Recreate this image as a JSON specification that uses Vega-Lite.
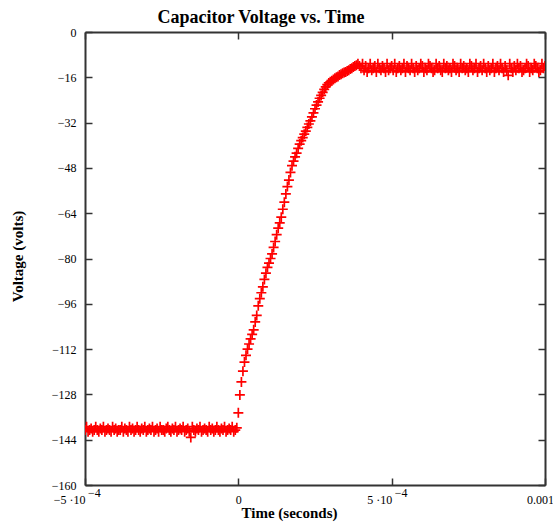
{
"$schema": "https://vega.github.io/schema/vega-lite/v6.json",
"width": 460, "height": 453,
"autosize": "none",
"padding": {"left": 85, "top": 32, "right": 8, "bottom": 38},
"background": "white",
"title": {"text": "Capacitor Voltage vs. Time", "font": "Liberation Serif", "fontSize": 18, "fontWeight": "bold", "color": "black", "anchor": "middle", "dx": -54, "offset": -1},
"config": {"view": {"stroke": null},
  "axis": {"grid": false, "domainColor": "#333333", "domainWidth": 2, "tickColor": "#333333", "tickWidth": 1.5, "tickSize": -7,
    "labelFont": "Liberation Serif", "labelFontSize": 12, "labelColor": "black",
    "titleFont": "Liberation Serif", "titleFontSize": 15, "titleFontWeight": "bold", "titleColor": "black"}},
"datasets": {
"exps": [{"t": -0.0005, "e": "−4"}, {"t": 0.0005, "e": "−4"}],
"scope": [
{"t":-5e-4,"v":-140.6},{"t":-4.95e-4,"v":-139.4},{"t":-4.9e-4,"v":-141.2},{"t":-4.85e-4,"v":-140.6},{"t":-4.8e-4,"v":-140.0},
{"t":-4.75e-4,"v":-141.2},{"t":-4.7e-4,"v":-140.6},{"t":-4.65e-4,"v":-139.4},{"t":-4.6e-4,"v":-140.6},{"t":-4.55e-4,"v":-141.2},
{"t":-4.5e-4,"v":-140.0},{"t":-4.45e-4,"v":-140.6},{"t":-4.4e-4,"v":-139.4},{"t":-4.35e-4,"v":-141.2},{"t":-4.3e-4,"v":-140.6},
{"t":-4.25e-4,"v":-140.0},{"t":-4.2e-4,"v":-140.6},{"t":-4.15e-4,"v":-141.2},{"t":-4.1e-4,"v":-139.4},{"t":-4.05e-4,"v":-140.6},
{"t":-4e-4,"v":-140.0},{"t":-3.95e-4,"v":-141.2},{"t":-3.9e-4,"v":-140.6},{"t":-3.85e-4,"v":-140.6},{"t":-3.8e-4,"v":-139.4},
{"t":-3.75e-4,"v":-141.2},{"t":-3.7e-4,"v":-140.0},{"t":-3.65e-4,"v":-140.6},{"t":-3.6e-4,"v":-141.2},{"t":-3.55e-4,"v":-139.4},
{"t":-3.5e-4,"v":-140.6},{"t":-3.45e-4,"v":-140.0},{"t":-3.4e-4,"v":-141.2},{"t":-3.35e-4,"v":-140.6},{"t":-3.3e-4,"v":-139.4},
{"t":-3.25e-4,"v":-140.6},{"t":-3.2e-4,"v":-141.2},{"t":-3.15e-4,"v":-140.0},{"t":-3.1e-4,"v":-140.6},{"t":-3.05e-4,"v":-139.4},
{"t":-3e-4,"v":-141.2},{"t":-2.95e-4,"v":-140.6},{"t":-2.9e-4,"v":-140.0},{"t":-2.85e-4,"v":-140.6},{"t":-2.8e-4,"v":-139.4},
{"t":-2.75e-4,"v":-141.2},{"t":-2.7e-4,"v":-140.6},{"t":-2.65e-4,"v":-140.0},{"t":-2.6e-4,"v":-141.2},{"t":-2.55e-4,"v":-139.4},
{"t":-2.5e-4,"v":-140.6},{"t":-2.45e-4,"v":-140.6},{"t":-2.4e-4,"v":-141.2},{"t":-2.35e-4,"v":-140.0},{"t":-2.3e-4,"v":-139.4},
{"t":-2.25e-4,"v":-140.6},{"t":-2.2e-4,"v":-141.2},{"t":-2.15e-4,"v":-140.0},{"t":-2.1e-4,"v":-140.6},{"t":-2.05e-4,"v":-139.4},
{"t":-2e-4,"v":-141.2},{"t":-1.95e-4,"v":-140.6},{"t":-1.9e-4,"v":-140.0},{"t":-1.85e-4,"v":-140.6},{"t":-1.8e-4,"v":-139.4},
{"t":-1.75e-4,"v":-141.2},{"t":-1.7e-4,"v":-140.6},{"t":-1.65e-4,"v":-140.0},{"t":-1.6e-4,"v":-141.2},{"t":-1.55e-4,"v":-143.2},
{"t":-1.5e-4,"v":-139.4},{"t":-1.45e-4,"v":-140.6},{"t":-1.4e-4,"v":-141.2},{"t":-1.35e-4,"v":-140.0},{"t":-1.3e-4,"v":-140.6},
{"t":-1.25e-4,"v":-139.4},{"t":-1.2e-4,"v":-141.2},{"t":-1.15e-4,"v":-140.6},{"t":-1.1e-4,"v":-140.0},{"t":-1.05e-4,"v":-140.6},
{"t":-1e-4,"v":-141.2},{"t":-9.5e-5,"v":-139.4},{"t":-9e-5,"v":-140.6},{"t":-8.5e-5,"v":-140.0},{"t":-8e-5,"v":-141.2},
{"t":-7.5e-5,"v":-140.6},{"t":-7e-5,"v":-139.4},{"t":-6.5e-5,"v":-140.6},{"t":-6e-5,"v":-141.2},{"t":-5.5e-5,"v":-140.0},
{"t":-5e-5,"v":-140.6},{"t":-4.5e-5,"v":-139.4},{"t":-4e-5,"v":-141.2},{"t":-3.5e-5,"v":-140.6},{"t":-3e-5,"v":-140.0},
{"t":-2.5e-5,"v":-140.6},{"t":-2e-5,"v":-139.4},{"t":-1.5e-5,"v":-141.2},{"t":-1e-5,"v":-140.6},{"t":-5e-6,"v":-139.8},
{"t":0,"v":-134.5},{"t":5e-6,"v":-128.2},{"t":1e-5,"v":-123.6},{"t":1.5e-5,"v":-119.8},{"t":2e-5,"v":-116.6},
{"t":2.5e-5,"v":-114.2},{"t":3e-5,"v":-112.0},{"t":3.5e-5,"v":-110.2},{"t":4e-5,"v":-108.4},{"t":4.5e-5,"v":-106.8},
{"t":5e-5,"v":-105.2},{"t":5.5e-5,"v":-102.4},{"t":6e-5,"v":-100.1},{"t":6.5e-5,"v":-96.7},{"t":7e-5,"v":-94.2},
{"t":7.5e-5,"v":-92.1},{"t":8e-5,"v":-90.0},{"t":8.5e-5,"v":-87.4},{"t":9e-5,"v":-85.2},{"t":9.5e-5,"v":-83.1},
{"t":1e-4,"v":-81.6},{"t":1.05e-4,"v":-80.0},{"t":1.1e-4,"v":-78.4},{"t":1.15e-4,"v":-76.1},{"t":1.2e-4,"v":-74.0},
{"t":1.25e-4,"v":-71.6},{"t":1.3e-4,"v":-69.3},{"t":1.35e-4,"v":-67.4},{"t":1.4e-4,"v":-65.4},{"t":1.45e-4,"v":-62.6},
{"t":1.5e-4,"v":-60.1},{"t":1.55e-4,"v":-57.2},{"t":1.6e-4,"v":-54.6},{"t":1.65e-4,"v":-52.3},{"t":1.7e-4,"v":-49.6},
{"t":1.75e-4,"v":-47.2},{"t":1.8e-4,"v":-45.6},{"t":1.85e-4,"v":-44.1},{"t":1.9e-4,"v":-42.8},{"t":1.95e-4,"v":-41.1},
{"t":2e-4,"v":-39.6},{"t":2.05e-4,"v":-38.4},{"t":2.1e-4,"v":-37.3},{"t":2.15e-4,"v":-36.1},{"t":2.2e-4,"v":-35.0},
{"t":2.25e-4,"v":-33.7},{"t":2.3e-4,"v":-32.5},{"t":2.35e-4,"v":-31.4},{"t":2.4e-4,"v":-30.0},{"t":2.45e-4,"v":-28.6},
{"t":2.5e-4,"v":-27.1},{"t":2.55e-4,"v":-25.8},{"t":2.6e-4,"v":-24.7},{"t":2.65e-4,"v":-23.4},{"t":2.7e-4,"v":-22.4},
{"t":2.75e-4,"v":-21.3},{"t":2.8e-4,"v":-20.3},{"t":2.85e-4,"v":-19.4},{"t":2.9e-4,"v":-18.6},{"t":2.95e-4,"v":-18.0},
{"t":3e-4,"v":-17.6},{"t":3.05e-4,"v":-17.2},{"t":3.1e-4,"v":-16.8},{"t":3.15e-4,"v":-16.3},{"t":3.2e-4,"v":-16.0},
{"t":3.25e-4,"v":-15.7},{"t":3.3e-4,"v":-15.2},{"t":3.35e-4,"v":-14.9},{"t":3.4e-4,"v":-14.6},{"t":3.45e-4,"v":-14.3},
{"t":3.5e-4,"v":-14.1},{"t":3.55e-4,"v":-13.8},{"t":3.6e-4,"v":-13.5},{"t":3.65e-4,"v":-13.1},{"t":3.7e-4,"v":-12.8},
{"t":3.75e-4,"v":-12.4},{"t":3.8e-4,"v":-12.0},{"t":3.85e-4,"v":-11.7},{"t":3.9e-4,"v":-11.2},{"t":3.95e-4,"v":-12.0},
{"t":4e-4,"v":-12.8},{"t":4.05e-4,"v":-11.2},{"t":4.1e-4,"v":-13.5},{"t":4.15e-4,"v":-12.0},{"t":4.2e-4,"v":-14.1},
{"t":4.25e-4,"v":-12.8},{"t":4.3e-4,"v":-11.2},{"t":4.35e-4,"v":-13.5},{"t":4.4e-4,"v":-12.8},{"t":4.45e-4,"v":-12.0},
{"t":4.5e-4,"v":-14.1},{"t":4.55e-4,"v":-11.2},{"t":4.6e-4,"v":-12.8},{"t":4.65e-4,"v":-13.5},{"t":4.7e-4,"v":-12.0},
{"t":4.75e-4,"v":-12.8},{"t":4.8e-4,"v":-14.1},{"t":4.85e-4,"v":-11.2},{"t":4.9e-4,"v":-13.5},{"t":4.95e-4,"v":-12.8},
{"t":5e-4,"v":-12.0},{"t":5.05e-4,"v":-13.5},{"t":5.1e-4,"v":-11.2},{"t":5.15e-4,"v":-14.1},{"t":5.2e-4,"v":-12.8},
{"t":5.25e-4,"v":-12.0},{"t":5.3e-4,"v":-13.5},{"t":5.35e-4,"v":-12.8},{"t":5.4e-4,"v":-11.2},{"t":5.45e-4,"v":-14.1},
{"t":5.5e-4,"v":-12.0},{"t":5.55e-4,"v":-12.8},{"t":5.6e-4,"v":-13.5},{"t":5.65e-4,"v":-11.2},{"t":5.7e-4,"v":-12.8},
{"t":5.75e-4,"v":-14.1},{"t":5.8e-4,"v":-12.0},{"t":5.85e-4,"v":-13.5},{"t":5.9e-4,"v":-12.8},{"t":5.95e-4,"v":-11.2},
{"t":6e-4,"v":-12.0},{"t":6.05e-4,"v":-14.1},{"t":6.1e-4,"v":-12.8},{"t":6.15e-4,"v":-13.5},{"t":6.2e-4,"v":-11.2},
{"t":6.25e-4,"v":-12.0},{"t":6.3e-4,"v":-12.8},{"t":6.35e-4,"v":-14.1},{"t":6.4e-4,"v":-13.5},{"t":6.45e-4,"v":-11.2},
{"t":6.5e-4,"v":-12.8},{"t":6.55e-4,"v":-12.0},{"t":6.6e-4,"v":-13.5},{"t":6.65e-4,"v":-14.1},{"t":6.7e-4,"v":-11.2},
{"t":6.75e-4,"v":-12.8},{"t":6.8e-4,"v":-12.0},{"t":6.85e-4,"v":-13.5},{"t":6.9e-4,"v":-12.8},{"t":6.95e-4,"v":-14.1},
{"t":7e-4,"v":-11.2},{"t":7.05e-4,"v":-12.0},{"t":7.1e-4,"v":-13.5},{"t":7.15e-4,"v":-12.8},{"t":7.2e-4,"v":-14.1},
{"t":7.25e-4,"v":-11.2},{"t":7.3e-4,"v":-12.8},{"t":7.35e-4,"v":-12.0},{"t":7.4e-4,"v":-13.5},{"t":7.45e-4,"v":-12.8},
{"t":7.5e-4,"v":-14.1},{"t":7.55e-4,"v":-11.2},{"t":7.6e-4,"v":-12.0},{"t":7.65e-4,"v":-13.5},{"t":7.7e-4,"v":-12.8},
{"t":7.75e-4,"v":-11.2},{"t":7.8e-4,"v":-14.1},{"t":7.85e-4,"v":-12.8},{"t":7.9e-4,"v":-12.0},{"t":7.95e-4,"v":-13.5},
{"t":8e-4,"v":-11.2},{"t":8.05e-4,"v":-12.8},{"t":8.1e-4,"v":-14.1},{"t":8.15e-4,"v":-12.0},{"t":8.2e-4,"v":-13.5},
{"t":8.25e-4,"v":-12.8},{"t":8.3e-4,"v":-11.2},{"t":8.35e-4,"v":-14.1},{"t":8.4e-4,"v":-12.8},{"t":8.45e-4,"v":-12.0},
{"t":8.5e-4,"v":-13.5},{"t":8.55e-4,"v":-11.2},{"t":8.6e-4,"v":-12.8},{"t":8.65e-4,"v":-14.1},{"t":8.7e-4,"v":-12.0},
{"t":8.75e-4,"v":-13.5},{"t":8.8e-4,"v":-15.3},{"t":8.85e-4,"v":-11.2},{"t":8.9e-4,"v":-12.8},{"t":8.95e-4,"v":-14.1},
{"t":9e-4,"v":-12.0},{"t":9.05e-4,"v":-13.5},{"t":9.1e-4,"v":-11.2},{"t":9.15e-4,"v":-12.8},{"t":9.2e-4,"v":-12.0},
{"t":9.25e-4,"v":-14.1},{"t":9.3e-4,"v":-13.5},{"t":9.35e-4,"v":-12.8},{"t":9.4e-4,"v":-11.2},{"t":9.45e-4,"v":-12.0},
{"t":9.5e-4,"v":-14.1},{"t":9.55e-4,"v":-12.8},{"t":9.6e-4,"v":-13.5},{"t":9.65e-4,"v":-11.2},{"t":9.7e-4,"v":-12.0},
{"t":9.75e-4,"v":-12.8},{"t":9.8e-4,"v":-14.1},{"t":9.85e-4,"v":-13.5},{"t":9.9e-4,"v":-11.2},{"t":9.95e-4,"v":-12.8},
{"t":1e-3,"v":-12.0}
]},
"data": {"name": "scope"},
"layer": [
  {"mark": {"type": "point", "shape": "M-1,0H1M0,-1V1", "filled": false, "stroke": "#ff0000", "strokeWidth": 1.7, "size": 100, "opacity": 1, "clip": true},
   "encoding": {
     "x": {"field": "t", "type": "quantitative", "scale": {"domain": [-0.0005, 0.001], "nice": false, "zero": false},
       "axis": {"orient": "bottom", "values": [-0.0005, 0, 0.0005, 0.001], "labelPadding": 16,
         "labelExpr": "datum.value < -0.0001 ? '−5 ·10' : (datum.value < 0.0001 ? '0' : (datum.value < 0.0008 ? '5 ·10' : '0.001'))",
         "labelAlign": {"condition": {"test": "abs(abs(datum.value) - 0.0005) < 0.0001", "value": "right"}, "value": "center"},
         "labelOffset": {"condition": {"test": "datum.value > 0.0008", "value": -5}, "value": 0},
         "title": "Time (seconds)", "titleX": 204, "titleY": 27, "titleAlign": "center", "titleBaseline": "middle"}},
     "y": {"field": "v", "type": "quantitative", "scale": {"domain": [-160, 0], "nice": false, "zero": false},
       "axis": {"orient": "left", "values": [-160, -144, -128, -112, -96, -80, -64, -48, -32, -16, 0], "labelPadding": 16,
         "title": "Voltage (volts)", "titleX": -68, "titleY": 224, "titleAngle": -90, "titleAlign": "center", "titleBaseline": "middle"}}
   }},
  {"mark": {"type": "point", "opacity": 0},
   "encoding": {
     "x": {"field": "t", "type": "quantitative", "scale": {"domain": [-0.0005, 0.001], "nice": false, "zero": false},
       "axis": {"orient": "top", "values": [-0.0005, 0, 0.0005, 0.001], "labels": false, "title": null}},
     "y": {"field": "v", "type": "quantitative", "scale": {"domain": [-160, 0], "nice": false, "zero": false},
       "axis": {"orient": "right", "values": [-160, -144, -128, -112, -96, -80, -64, -48, -32, -16, 0], "labels": false, "title": null}}
   }},
  {"data": {"name": "exps"},
   "mark": {"type": "text", "font": "Liberation Serif", "fontSize": 12, "color": "black", "align": "left", "baseline": "alphabetic", "dx": 3, "dy": 12, "clip": false},
   "encoding": {
     "x": {"field": "t", "type": "quantitative", "axis": null},
     "y": {"datum": -160, "type": "quantitative", "axis": null},
     "text": {"field": "e"}
   }}
],
"resolve": {"axis": {"x": "independent", "y": "independent"}}
}
